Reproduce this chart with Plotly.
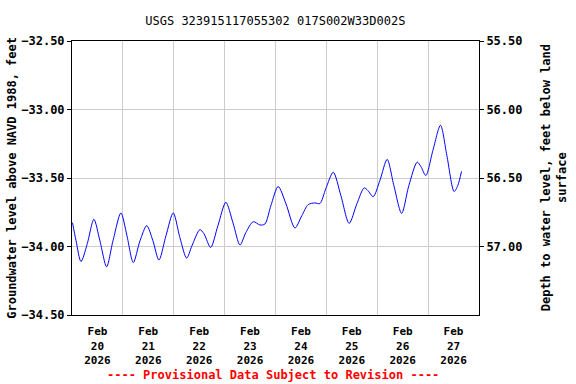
import plotly.graph_objects as go

title_text = "USGS 323915117055302 017S002W33D002S"

times = [
    "2026-02-20 00:15", "2026-02-20 01:55", "2026-02-20 04:15", "2026-02-20 07:05",
    "2026-02-20 10:20", "2026-02-20 13:10", "2026-02-20 16:20", "2026-02-20 19:20",
    "2026-02-20 23:05", "2026-02-21 01:55", "2026-02-21 04:55", "2026-02-21 08:05",
    "2026-02-21 11:15", "2026-02-21 14:10", "2026-02-21 17:00", "2026-02-21 20:20",
    "2026-02-21 23:45", "2026-02-22 02:55", "2026-02-22 06:05", "2026-02-22 08:35",
    "2026-02-22 12:20", "2026-02-22 14:15", "2026-02-22 17:25", "2026-02-22 20:50",
    "2026-02-23 00:35", "2026-02-23 03:55", "2026-02-23 07:15", "2026-02-23 10:00",
    "2026-02-23 13:30", "2026-02-23 16:40", "2026-02-23 19:00", "2026-02-23 21:50",
    "2026-02-24 01:15", "2026-02-24 04:55", "2026-02-24 09:10", "2026-02-24 12:25",
    "2026-02-24 15:25", "2026-02-24 18:35", "2026-02-24 20:55", "2026-02-24 23:45",
    "2026-02-25 03:15", "2026-02-25 06:50", "2026-02-25 10:45", "2026-02-25 14:25",
    "2026-02-25 17:50", "2026-02-25 19:35", "2026-02-25 22:05", "2026-02-26 01:15",
    "2026-02-26 04:40", "2026-02-26 07:50", "2026-02-26 11:30", "2026-02-26 14:55",
    "2026-02-26 18:50", "2026-02-26 20:35", "2026-02-26 22:55", "2026-02-27 02:15",
    "2026-02-27 05:50", "2026-02-27 08:50", "2026-02-27 12:15", "2026-02-27 14:00",
    "2026-02-27 15:45",
]

levels = [
    -33.826, -33.958, -34.110, -33.987,
    -33.802, -33.958, -34.148, -33.958,
    -33.755, -33.921, -34.117, -33.958,
    -33.848, -33.958, -34.099, -33.921,
    -33.755, -33.936, -34.085, -33.995,
    -33.877, -33.907, -34.007, -33.848,
    -33.677, -33.826, -33.989, -33.899,
    -33.819, -33.843, -33.836, -33.701,
    -33.562, -33.687, -33.865, -33.775,
    -33.694, -33.682, -33.687, -33.577,
    -33.458, -33.628, -33.831, -33.687,
    -33.572, -33.592, -33.636, -33.518,
    -33.364, -33.555, -33.758, -33.555,
    -33.384, -33.416, -33.482, -33.299,
    -33.115, -33.335, -33.599, -33.555,
    -33.452,
]

land_surface_offset = 23.0  # depth = offset - level

day_label_positions = [
    "2026-02-20 12:00", "2026-02-21 12:00", "2026-02-22 12:00", "2026-02-23 12:00",
    "2026-02-24 12:00", "2026-02-25 12:00", "2026-02-26 12:00", "2026-02-27 12:00",
]
day_labels = [
    "Feb<br>20<br>2026", "Feb<br>21<br>2026", "Feb<br>22<br>2026", "Feb<br>23<br>2026",
    "Feb<br>24<br>2026", "Feb<br>25<br>2026", "Feb<br>26<br>2026", "Feb<br>27<br>2026",
]
left_ticks = [-34.5, -34.0, -33.5, -33.0, -32.5]
right_ticks = [55.5, 56.0, 56.5, 57.0]

depths = [land_surface_offset - v for v in levels]

FONT = "DejaVu Sans Mono"
GRID = "#cccccc"

fig = go.Figure()
fig.add_trace(go.Scatter(
    x=times, y=levels, mode="lines",
    line=dict(color="#0000ff", width=1, shape="spline", smoothing=0.8),
    showlegend=False, hoverinfo="skip",
))
fig.add_trace(go.Scatter(
    x=times, y=depths, mode="lines", yaxis="y2",
    line=dict(color="rgba(0,0,0,0)", width=0),
    showlegend=False, hoverinfo="skip",
))

fig.update_layout(
    width=576, height=384,
    margin=dict(l=72, r=97, t=41, b=69),
    paper_bgcolor="white", plot_bgcolor="white",
    font=dict(family=FONT, size=12, color="black"),
    title=dict(text=title_text, x=0.478, xanchor="center", y=0.947, yanchor="middle",
               font=dict(family=FONT, size=12, color="black")),
    xaxis=dict(
        type="date",
        range=["2026-02-20 00:00", "2026-02-28 00:00"],
        tickmode="array", tickvals=day_label_positions, ticktext=day_labels,
        showgrid=False, ticks="", ticklabelstandoff=6,
        tickfont=dict(family=FONT, size=11, color="black", weight="bold"),
        showline=True, linecolor="black", linewidth=1, mirror=True,
        zeroline=False,
        minor=dict(dtick=86400000, tick0="2026-02-20", showgrid=True,
                   gridcolor=GRID, gridwidth=1, ticks=""),
    ),
    yaxis=dict(
        range=[-34.5, -32.5], tickmode="array", tickvals=left_ticks,
        tickformat=".2f", ticks="outside", ticklen=4, tickcolor="black",
        showgrid=True, gridcolor=GRID, gridwidth=1,
        showline=True, linecolor="black", linewidth=1, mirror=True,
        zeroline=False,
        tickfont=dict(family=FONT, size=12, color="black", weight="bold"),
    ),
    yaxis2=dict(
        overlaying="y", side="right",
        range=[57.5, 55.5], tickmode="array", tickvals=right_ticks,
        tickformat=".2f", ticks="outside", ticklen=4, tickcolor="black",
        showgrid=False, zeroline=False, showline=False,
        tickfont=dict(family=FONT, size=12, color="black", weight="bold"),
    ),
    annotations=[
        dict(text="Groundwater level above NAVD 1988, feet", textangle=-90,
             xref="paper", yref="paper", x=-0.148, y=0.5,
             xanchor="center", yanchor="middle", showarrow=False,
             font=dict(family=FONT, size=12, color="black", weight="bold")),
        dict(text="Depth to water level, feet below land<br>surface", textangle=-90,
             xref="paper", yref="paper", x=1.185, y=0.5,
             xanchor="center", yanchor="middle", showarrow=False,
             font=dict(family=FONT, size=12, color="black", weight="bold")),
        dict(text="---- Provisional Data Subject to Revision ----",
             xref="paper", yref="paper", x=0.495, y=-0.218,
             xanchor="center", yanchor="middle", showarrow=False,
             font=dict(family=FONT, size=12, color="red", weight="bold")),
    ],
)

fig.write_html("out.html", config={"displayModeBar": False},
               post_script="document.body.style.margin='0';")
